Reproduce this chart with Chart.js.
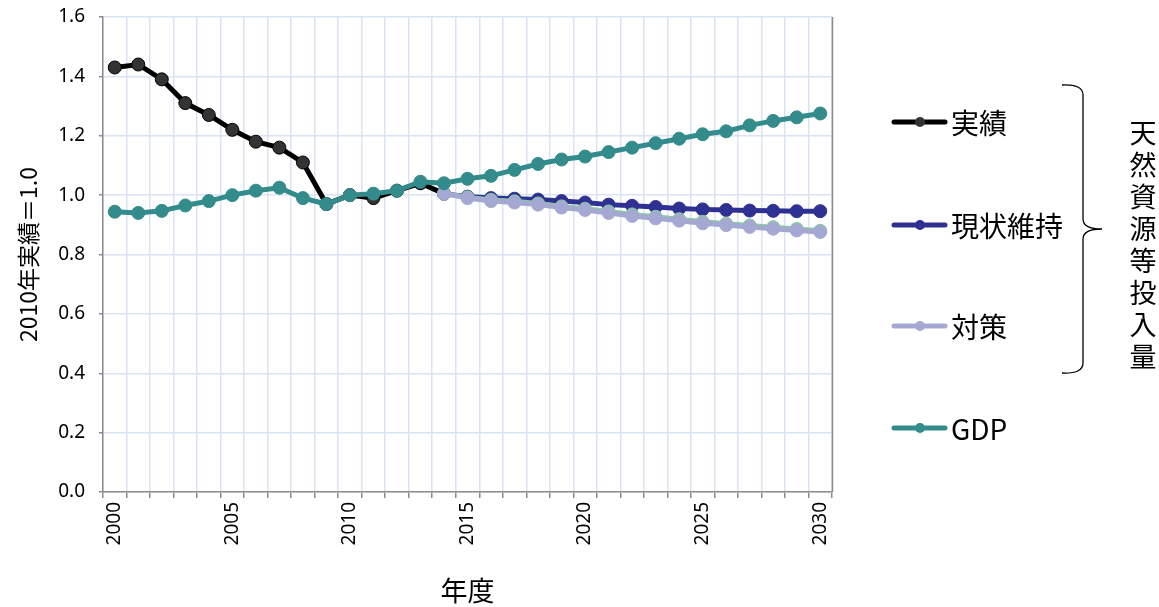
<!DOCTYPE html>
<html>
<head>
<meta charset="utf-8">
<script src="https://cdn.jsdelivr.net/npm/chart.js@4"></script>
<style>
  html, body { margin: 0; padding: 0; background: #fff; }
  #wrap { position: relative; width: 1159px; height: 607px; }
</style>
</head>
<body>
<div id="wrap"><canvas id="chart"></canvas></div>
<script>
// ── データ
const years = ['2000','2001','2002','2003','2004','2005','2006','2007','2008','2009',
  '2010','2011','2012','2013','2014','2015','2016','2017','2018','2019',
  '2020','2021','2022','2023','2024','2025','2026','2027','2028','2029','2030'];

const actual = [1.43, 1.44, 1.39, 1.31, 1.27, 1.22, 1.18, 1.16, 1.11, 0.97,
  1.00, 0.99, 1.015, 1.04, 1.005, null, null, null, null, null,
  null, null, null, null, null, null, null, null, null, null, null];

const statusQuo = [null, null, null, null, null, null, null, null, null, null,
  null, null, null, null, 1.005, 0.995, 0.99, 0.988, 0.985, 0.98,
  0.975, 0.968, 0.964, 0.96, 0.955, 0.952, 0.95, 0.948, 0.947, 0.946, 0.946];

const measures = [null, null, null, null, null, null, null, null, null, null,
  null, null, null, null, 1.005, 0.99, 0.98, 0.975, 0.968, 0.958,
  0.95, 0.94, 0.93, 0.922, 0.914, 0.905, 0.899, 0.893, 0.887, 0.881, 0.876];

// 対策の下に薄く見える線
const measuresSub = [null, null, null, null, null, null, null, null, null, null,
  null, null, null, null, 1.005, 0.993, 0.984, 0.979, 0.972, 0.962,
  0.954, 0.945, 0.935, 0.927, 0.919, 0.91, 0.904, 0.898, 0.892, 0.886, 0.88];

const gdp = [0.944, 0.94, 0.947, 0.965, 0.98, 1.0, 1.015, 1.025, 0.99, 0.97,
  1.0, 1.005, 1.015, 1.045, 1.04, 1.055, 1.065, 1.085, 1.105, 1.12,
  1.13, 1.145, 1.16, 1.175, 1.19, 1.205, 1.215, 1.235, 1.25, 1.262, 1.275];

const legendItems = [
  { label: '実績', line: '#000000', point: '#333333' },
  { label: '現状維持', line: '#2e3192', point: '#2e3192' },
  { label: '対策', line: '#a5a8d2', point: '#a5a8d2' },
  { label: 'GDP', line: '#338b8b', point: '#338b8b' }
];
const braceText = '天然資源等投入量';

const JP = "'Noto Sans CJK JP', 'Noto Sans', sans-serif";
const NUM = "'Noto Sans', 'Noto Sans CJK JP', sans-serif";

function series(label, data, line, point, order) {
  return {
    label, data, order,
    borderColor: line,
    backgroundColor: point,
    pointBackgroundColor: point,
    pointBorderColor: line,
    pointBorderWidth: 1,
    borderWidth: 5,
    pointRadius: 6.5,
    tension: 0,
    spanGaps: false
  };
}

// ── 凡例・括弧・縦書きテキスト
const sidePlugin = {
  id: 'side',
  afterDraw(chart) {
    const ctx = chart.ctx;
    const a = chart.chartArea;
    ctx.save();
    // 右枠
    ctx.strokeStyle = '#8c8c8c';
    ctx.lineWidth = 1.5;
    ctx.beginPath();
    ctx.moveTo(a.right + 0.5, a.top);
    ctx.lineTo(a.right + 0.5, a.bottom);
    ctx.stroke();

    // 凡例
    const ys = [122, 225, 326, 428];
    legendItems.forEach((it, i) => {
      const y = ys[i];
      ctx.strokeStyle = it.line;
      ctx.lineWidth = 5;
      ctx.lineCap = 'round';
      ctx.beginPath();
      ctx.moveTo(894, y);
      ctx.lineTo(945, y);
      ctx.stroke();
      ctx.fillStyle = it.point;
      ctx.beginPath();
      ctx.arc(920, y, 5, 0, Math.PI * 2);
      ctx.fill();
      ctx.fillStyle = '#000';
      ctx.font = '28px ' + JP;
      ctx.textAlign = 'left';
      ctx.textBaseline = 'middle';
      ctx.fillText(it.label, 951, y + 1);
    });

    // 括弧
    ctx.strokeStyle = '#000';
    ctx.lineWidth = 1.3;
    ctx.lineCap = 'butt';
    ctx.beginPath();
    ctx.moveTo(1062, 85);
    ctx.quadraticCurveTo(1083, 84, 1083, 95);
    ctx.lineTo(1083, 219);
    ctx.quadraticCurveTo(1083, 229, 1102, 229);
    ctx.moveTo(1083, 239);
    ctx.quadraticCurveTo(1083, 229, 1102, 229);
    ctx.moveTo(1083, 239);
    ctx.lineTo(1083, 363);
    ctx.quadraticCurveTo(1083, 374, 1062, 373);
    ctx.stroke();

    // 縦書き
    ctx.fillStyle = '#000';
    ctx.font = '27px ' + JP;
    ctx.textAlign = 'center';
    ctx.textBaseline = 'middle';
    [...braceText].forEach((ch, i) => {
      ctx.fillText(ch, 1143, 133 + i * 32);
    });
    ctx.restore();
  }
};

new Chart(document.getElementById('chart'), {
  type: 'line',
  data: {
    labels: years,
    datasets: [
      series('実績', actual, '#000000', '#333333', 4),
      series('現状維持', statusQuo, '#2e3192', '#2e3192', 3),
      series('対策(下)', measuresSub, '#86c9a2', '#86c9a2', 2),
      series('対策', measures, '#a5a8d2', '#a5a8d2', 1),
      series('GDP', gdp, '#338b8b', '#338b8b', 0)
    ]
  },
  options: {
    responsive: true,
    maintainAspectRatio: false,
    animation: false,
    layout: { padding: { top: 17, right: 327, left: 14, bottom: 0 } },
    plugins: {
      legend: { display: false },
      tooltip: { enabled: false }
    },
    scales: {
      x: {
        offset: true,
        grid: {
          offset: true,
          color: '#dae3f3',
          lineWidth: 1.5,
          tickColor: '#8c8c8c',
          tickLength: 6
        },
        border: { color: '#8c8c8c', width: 1.5 },
        ticks: {
          autoSkip: false,
          maxRotation: 90,
          minRotation: 90,
          color: '#000',
          padding: 4,
          font: { family: NUM, size: 19 },
          callback: function(v, i) {
            const y = years[i];
            return (Number(y) % 5 === 0) ? y : '';
          }
        },
        title: {
          display: true,
          text: '年度',
          color: '#000',
          font: { family: JP, size: 27 },
          padding: { top: 8, bottom: 0 }
        },
        afterFit: s => { s.height = 115; }
      },
      y: {
        min: 0,
        max: 1.6,
        ticks: {
          stepSize: 0.2,
          color: '#000',
          padding: 14,
          font: { family: NUM, size: 19 },
          callback: v => v.toFixed(1)
        },
        grid: {
          color: '#dae3f3',
          lineWidth: 1.5,
          tickLength: 4,
          tickColor: '#8c8c8c'
        },
        border: { color: '#8c8c8c', width: 1.5 },
        title: {
          display: true,
          text: '2010年実績＝1.0',
          color: '#000',
          font: { family: JP, size: 23 },
          padding: { top: 0, bottom: 2 }
        },
        afterFit: s => { s.width = 89; s.paddingTop = 0; s.paddingBottom = 0; }
      }
    }
  },
  plugins: [sidePlugin]
});
</script>
</body>
</html>
